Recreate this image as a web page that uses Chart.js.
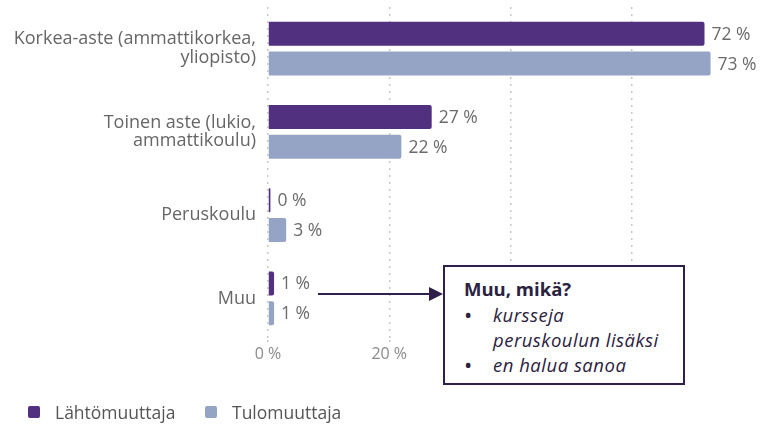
<!DOCTYPE html>
<html>
<head>
<meta charset="utf-8">
<script src="https://cdn.jsdelivr.net/npm/chart.js@4/dist/chart.umd.min.js"></script>
<style>
  html, body { margin: 0; padding: 0; background: #fff; }
  #wrap { position: relative; width: 767px; height: 426px; overflow: hidden; }
  #c { position: absolute; left: 0; top: 0; }
  #note {
    position: absolute; left: 443px; top: 265px; width: 238px; height: 116px;
    border: 2px solid #2f1f4a; background: #fff; box-sizing: content-box;
    font-family: "Open Sans", sans-serif; color: #2b2240;
  }
  #note .t { position: absolute; left: 19px; top: 9px; font-weight: 700; font-size: 18.5px; line-height: 25px; }
  #note ul { position: absolute; left: 0; top: 35px; margin: 0; padding: 0; list-style: none; font-style: italic; font-size: 18.5px; line-height: 25px; letter-spacing: 0.5px; white-space: nowrap; }
  #note li { position: relative; padding-left: 48px; }
  #note li::before { content: "•"; position: absolute; left: 19px; font-style: normal; font-size: 22px; }
  #arrow { position: absolute; left: 0; top: 0; pointer-events: none; }
  #legend { position: absolute; left: 0; top: 400px; height: 24px; font-family: "Open Sans", sans-serif; font-size: 17.5px; color: #555; }
  #legend .item { position: absolute; top: 0; line-height: 24px; white-space: nowrap; }
  #legend .sw { position: absolute; top: 6px; width: 12px; height: 12px; border-radius: 2px; }
</style>
</head>
<body>
<div id="wrap">
  <canvas id="c" width="767" height="426"></canvas>
  <svg id="arrow" width="767" height="426">
    <line x1="318" y1="294" x2="432" y2="294" stroke="#2f1f4a" stroke-width="2"/>
    <polygon points="443,294 429,287 429,301" fill="#2f1f4a"/>
  </svg>
  <div id="note">
    <div class="t">Muu, mikä?</div>
    <ul>
      <li>kursseja<br>peruskoulun lisäksi</li>
      <li>en halua sanoa</li>
    </ul>
  </div>
  <div id="legend"></div>
</div>
<script>
const categories = [
  ["Korkea-aste (ammattikorkea,", "yliopisto)"],
  ["Toinen aste (lukio,", "ammattikoulu)"],
  "Peruskoulu",
  "Muu"
];
const seriesNames = ["Lähtömuuttaja", "Tulomuuttaja"];
const lahtoValues = [72, 27, 0.4, 1];
const tuloValues = [73, 22, 3, 1];
const xTicks = [0, 20, 40, 60, 80];
const colors = ["#50307f", "#95a4c5"];

// HTML legend built from the series
const legendEl = document.getElementById("legend");
const legendX = [28, 205];
seriesNames.forEach((name, i) => {
  const sw = document.createElement("div");
  sw.className = "sw";
  sw.style.left = legendX[i] + "px";
  sw.style.background = colors[i];
  const tx = document.createElement("div");
  tx.className = "item";
  tx.style.left = (legendX[i] + 27) + "px";
  tx.textContent = name;
  legendEl.appendChild(sw);
  legendEl.appendChild(tx);
});

const valueLabels = {
  id: "valueLabels",
  afterDatasetsDraw(chart) {
    const ctx = chart.ctx;
    ctx.save();
    ctx.font = "17.5px 'Open Sans', sans-serif";
    ctx.fillStyle = "#6b6b6b";
    ctx.textAlign = "left";
    ctx.textBaseline = "middle";
    chart.data.datasets.forEach((ds, i) => {
      chart.getDatasetMeta(i).data.forEach((bar, j) => {
        ctx.fillText(Math.round(ds.data[j]) + " %", bar.x + 7, bar.y + 1);
      });
    });
    ctx.restore();
  }
};

new Chart(document.getElementById("c"), {
  type: "bar",
  data: {
    labels: categories,
    datasets: [
      { label: seriesNames[0], data: lahtoValues, backgroundColor: colors[0] },
      { label: seriesNames[1], data: tuloValues, backgroundColor: colors[1] }
    ]
  },
  options: {
    indexAxis: "y",
    responsive: false,
    animation: false,
    devicePixelRatio: 1,
    layout: { padding: { left: 0, right: 14, top: 7, bottom: 0 } },
    datasets: { bar: { categoryPercentage: 0.72, barPercentage: 0.8, borderRadius: 2, borderSkipped: "start" } },
    scales: {
      x: {
        min: 0, max: 80,
        afterBuildTicks: (s) => { s.ticks = xTicks.map(v => ({ value: v })); },
        afterFit: (s) => { s.height = 86; s.paddingLeft = 0; s.paddingRight = 0; },
        grid: {
          color: (c) => (c.tick && c.tick.value === 80) ? "rgba(0,0,0,0)" : "#c8c8c8",
          lineWidth: 1.5,
          tickLength: 4,
          tickBorderDash: [2, 5],
        },
        border: { display: false, dash: [2, 5] },
        ticks: {
          padding: 1,
          color: "#8a8a8a",
          font: { family: "'Open Sans', sans-serif", size: 16 },
          callback: (v) => v === 80 ? "" : v + " %"
        }
      },
      y: {
        afterFit: (s) => { s.width = 268; s.paddingTop = 0; s.paddingBottom = 0; },
        grid: { display: false, drawTicks: false },
        border: { display: false },
        ticks: {
          padding: 12,
          color: "#666",
          font: { family: "'Open Sans', sans-serif", size: 18, lineHeight: 1.05 }
        }
      }
    },
    plugins: {
      legend: { display: false },
      tooltip: { enabled: false }
    }
  },
  plugins: [valueLabels]
});
</script>
</body>
</html>
